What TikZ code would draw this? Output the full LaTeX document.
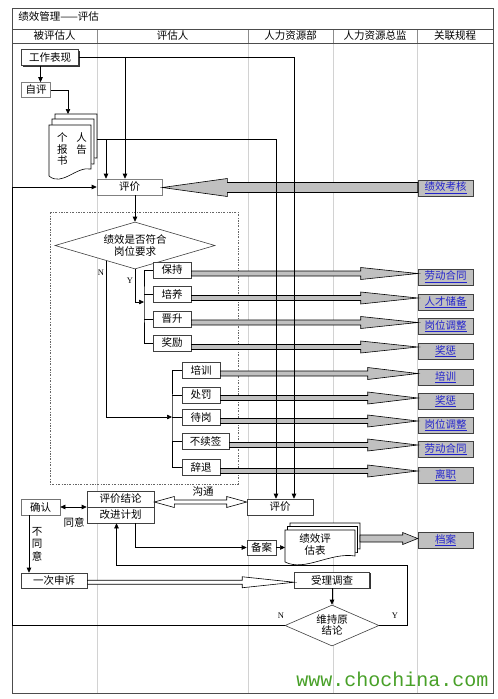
\documentclass[tikz,border=0pt]{standalone}
\usepackage{fontspec}
\setmainfont{Noto Sans CJK SC}
\newfontfamily\ynfont{Liberation Serif}
\newfontfamily\webfont{Liberation Mono}
\usetikzlibrary{calc,arrows.meta,shapes.geometric,shadows}

\definecolor{linkblue}{RGB}{35,35,205}
\definecolor{webgreen}{RGB}{72,160,40}
\definecolor{fillgray}{RGB}{192,192,192}
\definecolor{gridgray}{RGB}{210,210,210}

\begin{document}
\begin{tikzpicture}[x=1pt, y=-1pt, line width=0.6pt,
    font=\fontsize{10.5}{12}\selectfont,
    >={Triangle[length=5pt,width=4.5pt]},
    box/.style={draw=black!75, fill=white, minimum height=16pt, inner sep=1pt},
    shadowbox/.style={box, drop shadow={shadow xshift=1.3pt, shadow yshift=-1.3pt, opacity=1, fill=black!80}},
    linkbox/.style={shadowbox, fill=fillgray, minimum width=55pt, text=linkblue},
    choice/.style={shadowbox, minimum width=38pt},
    decision/.style={diamond, draw=black!75, fill=white, inner sep=0pt, align=center},
    yn/.style={font=\ynfont\fontsize{8.5}{9}\selectfont, inner sep=0pt},
    bigarrow/.style n args={3}{to path={
      let \p1=(\tikztostart), \p2=(\tikztotarget),
          \p3=($(\tikztostart)!0.5!(\tikztotarget)$) in
      ({\x1},{\y3+#2}) -- ({\x2-(#1)},{\y3+#2}) -- ({\x2-(#1)},{\y3+#3})
      -- ({\x2},{\y3}) -- ({\x2-(#1)},{\y3-#3}) -- ({\x2-(#1)},{\y3-#2})
      -- ({\x1},{\y3-#2}) -- cycle}},
    twowayarrow/.style n args={3}{to path={
      let \p1=(\tikztostart), \p2=(\tikztotarget) in
      ({\x1},{\y1}) -- ({\x1+#1},{\y1+#3}) -- ({\x1+#1},{\y1+#2})
      -- ({\x2-#1},{\y1+#2}) -- ({\x2-#1},{\y1+#3}) -- ({\x2},{\y1})
      -- ({\x2-#1},{\y1-#3}) -- ({\x2-#1},{\y1-#2}) -- ({\x1+#1},{\y1-#2})
      -- ({\x1+#1},{\y1-#3}) -- cycle}}]

    \useasboundingbox (0,0) rectangle (498,699);

    % Lane borders, drawn first so that everything lies on top
    \draw[gridgray, line width=0.8pt] (97,43) -- (97,693);
    \draw[gridgray, line width=0.8pt] (248,43) -- (248,693);
    \draw[gridgray, line width=0.8pt] (333,43) -- (333,693);
    \draw[gridgray, line width=0.8pt] (417,43) -- (417,693);
    \draw[black!45] (97,29) -- (97,43);
    \draw[black!45] (248,29) -- (248,43);
    \draw[black!45] (333,29) -- (333,43);
    \draw[black!45] (417,29) -- (417,43);

    % Outer frame and the two header rows
    \draw[line width=0.9pt, black!70] (12,8) rectangle (493,693);
    \draw[line width=0.9pt, black!70] (12,29) -- (493,29);
    \draw[line width=0.9pt, black!70] (12,43) -- (493,43);

    \node[anchor=west, inner sep=0pt] (title) at (18,17) {绩效管理——评估};
    \node (laneA) at (54.5,36) {被评估人};
    \node (laneB) at (172.5,36) {评估人};
    \node (laneC) at (290.5,36) {人力资源部};
    \node (laneD) at (375,36) {人力资源总监};
    \node (laneE) at (455,36) {关联规程};

    % Self assessment and the report
    \node[shadowbox, minimum width=57pt] (work) at (50,57.5) {工作表现};
    \node[box, draw=black!50, minimum width=29pt, minimum height=15pt] (selfeval) at (36,90) {自评};

    \draw[fill=white] (55,114) -- (97,114) -- (97,158) .. controls (82,155) and (68,175) .. (55,165) -- cycle;
    \draw[fill=white] (52,119) -- (94,119) -- (94,164) .. controls (79,161) and (65,181) .. (52,171) -- cycle;
    \draw[fill=white] (49,125) -- (91,125) -- (91,169) .. controls (76,166) and (62,187) .. (49,176) -- cycle;
    \node[align=left, inner sep=0pt, font=\fontsize{10.5}{11.5}\selectfont] (report) at (72,149) {个\hspace{9pt}人\\报\hspace{9pt}告\\书};

    \coordinate (reportTop) at (68,114);
    \coordinate (reportOut) at (97,139);
    \coordinate (reportTap) at (106,139);
    \coordinate (workTap) at (125,57.5);

    % First assessment and the check against the post
    \node[box, draw=black!50, minimum width=65pt] (evalA) at (129.5,187) {评价};
    \node[linkbox] (rKpi) at (445.5,188) {\underline{绩效考核}};

    \draw[black!60, dash pattern=on 2pt off 1.5pt on 0.6pt off 1.5pt] (50,212) rectangle (238,484);

    \node[decision, minimum width=160pt, minimum height=47pt, aspect=3.4,
          font=\fontsize{10.5}{11.5}\selectfont] (meetreq) at (135,245.5) {绩效是否符合\\岗位要求};

    % Outcomes when the post is met
    \node[choice] (keep) at (172,270) {保持};
    \node[choice] (foster) at (172,294) {培养};
    \node[choice] (promote) at (172,319) {晋升};
    \node[choice] (reward) at (172,343) {奖励};

    % Outcomes when the post is not met
    \node[choice] (train) at (201,370) {培训};
    \node[choice] (punish) at (201,395) {处罚};
    \node[choice] (standby) at (201,417) {待岗};
    \node[choice, minimum width=47pt] (nonrenew) at (205.5,441) {不续签};
    \node[choice] (dismiss) at (201,467) {辞退};

    % Related rules
    \node[linkbox] (rContractA) at (445.5,277) {\underline{劳动合同}};
    \node[linkbox] (rTalent) at (445.5,302) {\underline{人才储备}};
    \node[linkbox] (rPostA) at (445.5,326) {\underline{岗位调整}};
    \node[linkbox] (rRewardA) at (445.5,351) {\underline{奖惩}};
    \node[linkbox] (rTrain) at (445.5,377) {\underline{培训}};
    \node[linkbox] (rRewardB) at (445.5,401) {\underline{奖惩}};
    \node[linkbox] (rPostB) at (445.5,425) {\underline{岗位调整}};
    \node[linkbox] (rContractB) at (445.5,449) {\underline{劳动合同}};
    \node[linkbox] (rLeave) at (445.5,475) {\underline{离职}};
    \node[linkbox] (rArchive) at (445.5,540) {\underline{档案}};

    % Conclusion, confirmation and appeal
    \node[box, draw=black!55, minimum width=39pt] (confirm) at (40.5,507) {确认};
    \node[shadowbox, minimum width=67pt] (concl) at (120.5,499) {评价结论};
    \node[shadowbox, minimum width=67pt] (plan) at (120.5,515) {改进计划};
    \node[shadowbox, minimum width=66pt] (evalB) at (280,507) {评价};
    \node[box, minimum width=66pt, minimum height=15pt] (appeal) at (54,580.5) {一次申诉};
    \node[shadowbox, minimum width=29pt, minimum height=15pt] (file) at (261.5,547.5) {备案};
    \node[shadowbox, minimum width=75pt] (accept) at (332,580) {受理调查};
    \node[decision, minimum width=94pt, minimum height=41pt, aspect=2.3,
          font=\fontsize{10.5}{11}\selectfont] (keepresult) at (332,625.5) {维持原\\结论};

    % Stacked form pages
    \draw[fill=white] (290,523) -- (360,523) -- (360,549) .. controls (335,545) and (310,565) .. (290,555) -- cycle;
    \draw[fill=white] (287.5,526.5) -- (357.5,526.5) -- (357.5,552.5) .. controls (332.5,548.5) and (307.5,568.5) .. (287.5,558.5) -- cycle;
    \draw[fill=white] (285,530) -- (355,530) -- (355,556) .. controls (330,552) and (305,572) .. (285,562) -- cycle;
    \node[align=center, inner sep=0pt, font=\fontsize{10.5}{12}\selectfont] (formdoc) at (315,544) {绩效评\\估表};
    \coordinate (formIn) at (285,547.5);
    \coordinate (formOut) at (360,537);

    % Labels
    \node[yn] (noA) at (101,273) {N};
    \node[yn] (yesA) at (130,281) {Y};
    \node[yn] (noB) at (281,616) {N};
    \node[yn] (yesB) at (395,616) {Y};
    \node[inner sep=0pt] (agree) at (74,522) {同意};
    \node[inner sep=0pt, align=center, font=\fontsize{10.5}{12.5}\selectfont] (disagree) at (37,544) {不\\同\\意};
    \node[inner sep=0pt] (talk) at (203,492) {沟通};
    \node[anchor=base west, inner sep=0pt, text=webgreen,
          font=\webfont\fontsize{20}{20}\selectfont] (site) at (296,686) {www.chochina.com};

    % Connectors on the upper part
    \draw[->] ([xshift=-9.5pt]work.south) -- ([xshift=-9.5pt]work.south |- selfeval.north);
    \draw[->] (selfeval.east) -| (reportTop);
    \draw[->] (workTap) -- (workTap |- evalA.north);
    \draw[->] (reportTap) -- (reportTap |- evalA.north);
    \draw[->] (evalA.south -| meetreq.north) -- (meetreq.north);

    \coordinate (yesIn) at (144,302);
    \coordinate (noOut) at ($(meetreq.west)!0.64!(meetreq.south)$);
    \coordinate (noIn) at (172,417);
    \draw[->] (meetreq.south) |- (yesIn);
    \draw[->] (noOut) |- (noIn);

    % Brackets joining the outcomes
    \draw (keep.west) -| (yesIn) |- (reward.west);
    \draw (foster.west) -- (foster.west -| yesIn);
    \draw (promote.west) -- (promote.west -| yesIn);
    \draw (train.west) -| (noIn) |- (dismiss.west);
    \draw (punish.west) -- (punish.west -| noIn);
    \draw (standby.west) -- (standby.west -| noIn);
    \draw (nonrenew.west) -- (nonrenew.west -| noIn);

    % Wide arrows to the related rules
    \draw[fill=fillgray, bigarrow={-65pt}{5pt}{9pt}] (rKpi.west) to (evalA.east);
    \draw[fill=fillgray, bigarrow={57pt}{2.5pt}{6pt}] (keep.east) to (rContractA.west);
    \draw[fill=fillgray, bigarrow={57pt}{2.5pt}{6pt}] (foster.east) to (rTalent.west);
    \draw[fill=fillgray, bigarrow={57pt}{2.5pt}{6pt}] (promote.east) to (rPostA.west);
    \draw[fill=fillgray, bigarrow={57pt}{2.5pt}{6pt}] (reward.east) to (rRewardA.west);
    \draw[fill=fillgray, bigarrow={50pt}{2.5pt}{6pt}] (train.east) to (rTrain.west);
    \draw[fill=fillgray, bigarrow={50pt}{2.5pt}{6pt}] (punish.east) to (rRewardB.west);
    \draw[fill=fillgray, bigarrow={50pt}{2.5pt}{6pt}] (standby.east) to (rPostB.west);
    \draw[fill=fillgray, bigarrow={50pt}{2.5pt}{6pt}] (nonrenew.east) to (rContractB.west);
    \draw[fill=fillgray, bigarrow={50pt}{2.5pt}{6pt}] (dismiss.east) to (rLeave.west);
    \draw[fill=fillgray, bigarrow={15pt}{3.5pt}{6pt}] (formOut) to (rArchive.west);

    % Connectors on the lower part
    \draw[<->] (confirm.east) -- (confirm.east -| plan.north west);
    \draw[fill=white, twowayarrow={20pt}{2pt}{5.5pt}] ([yshift=-3pt]concl.east) to ([yshift=5pt]evalB.west);
    \draw[->] ([xshift=-11.5pt]confirm.south) -- ([xshift=-11.5pt]confirm.south |- appeal.north);
    \draw[fill=white, bigarrow={52pt}{2pt}{5.5pt}] ([yshift=-2pt]appeal.east) to ([yshift=-2pt]accept.west);
    \draw[->] (accept.south) -- (keepresult.north);

    \coordinate (leftTurn) at (12,187);
    \draw[->] (keepresult.west) -| (leftTurn) -- (evalA.west);
    \coordinate (rightTurn) at (407,565);
    \draw[->] (keepresult.east) -| (rightTurn) -| ([xshift=-4pt]plan.south);
    \draw[->] ([xshift=14.5pt]plan.south) |- (file.west);
    \draw[->] (file.east) -- (formIn);

    % Long lines down to the second assessment
    \draw[->] (work.east) -| ([xshift=14pt]evalB.north);
    \draw[->] (reportOut) -| ([xshift=-4pt]evalB.north);

\end{tikzpicture}
\end{document}
